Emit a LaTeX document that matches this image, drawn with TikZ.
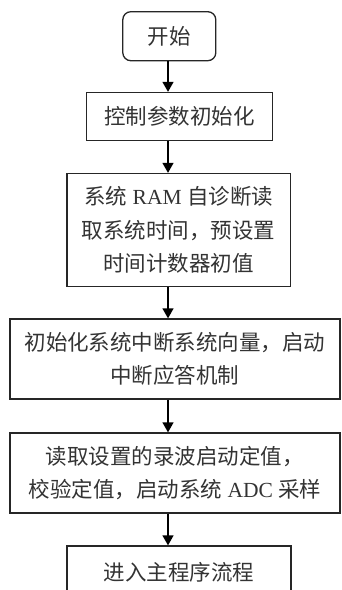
\documentclass[tikz,border=0pt]{standalone}
\usepackage{fontspec}
\setmainfont{Liberation Serif}
\newfontfamily\cjk{Noto Sans CJK SC}
\usetikzlibrary{arrows.meta}
\begin{document}
\begin{tikzpicture}[x=1pt,y=-1pt,
  box/.style={draw=black!85, line width=1.3pt, align=center, inner sep=0pt,
    text=black!80, font=\fontsize{21.5}{33.5}\selectfont},
  arr/.style={draw=black, line width=1.4pt, -{Triangle[length=10pt,width=11pt]}}]
\useasboundingbox (0,0) rectangle (341,590);
\node[box, rounded corners=8pt, minimum width=93pt, minimum height=49pt] (s) at (169.3,36.2) {\cjk 开始};
\node[box, minimum width=186pt, minimum height=48pt] (b2) at (179.3,116.5) {\cjk 控制参数初始化};
\node[box, minimum width=223.5pt, minimum height=113pt] (b3) at (178.7,230) {{\cjk 系统} RAM {\cjk 自诊断读}\\{\cjk 取系统时间，预设置}\\{\cjk 时间计数器初值}};
\node[box, minimum width=330pt, minimum height=80pt] (b4) at (175,359) {\cjk 初始化系统中断系统向量，启动\\\cjk 中断应答机制};
\node[box, minimum width=330pt, minimum height=80pt] (b5) at (175,473) {{\cjk 读取设置的录波启动定值，}\\{\cjk 校验定值，启动系统} ADC {\cjk 采样}};
\node[box, minimum width=224pt, minimum height=52pt] (b6) at (179,572) {\cjk 进入主程序流程};
\coordinate (ax) at (168,0);
\draw[arr] (s.south -| ax) -- (b2.north -| ax);
\draw[arr] (b2.south -| ax) -- (b3.north -| ax);
\draw[arr] (b3.south -| ax) -- (b4.north -| ax);
\draw[arr] (b4.south -| ax) -- (b5.north -| ax);
\draw[arr] (b5.south -| ax) -- (b6.north -| ax);
\end{tikzpicture}
\end{document}
